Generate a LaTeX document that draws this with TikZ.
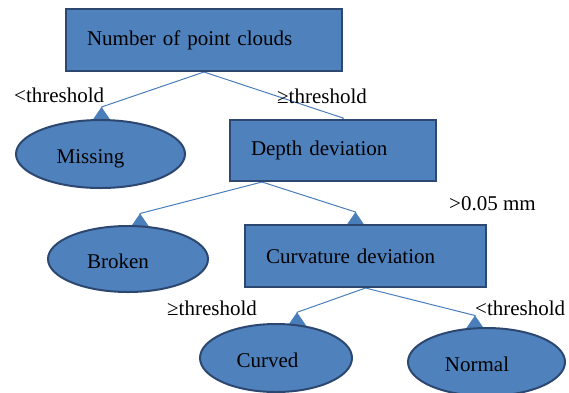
\documentclass[tikz,border=0pt]{standalone}
\usepackage{fontspec}
\setmainfont{Liberation Serif}
\usetikzlibrary{arrows.meta,shapes.geometric,calc,backgrounds}
\definecolor{boxfill}{HTML}{4F81BD}
\definecolor{boxline}{HTML}{2C4770}
\definecolor{connline}{HTML}{4A7EBB}
\begin{document}
\begin{tikzpicture}[x=1pt,y=-1pt,
  every node/.style={font=\fontsize{21}{25}\selectfont},
  decbox/.style={rectangle, draw=boxline, line width=2pt, fill=boxfill, inner xsep=0pt, inner ysep=0pt, align=left},
  leaf/.style={ellipse, draw=boxline, line width=2pt, fill=boxfill, inner sep=0pt, text height=18pt, text depth=0pt},
  conn/.style={draw=connline, line width=1pt, -{Triangle[reversed,length=14pt,width=19pt]}},
  lbl/.style={anchor=base west, inner sep=0pt}]
\useasboundingbox (0,0) rectangle (569,392);
\clip (0,0) rectangle (569,392);
% decision boxes
\node[decbox, minimum width=276pt, minimum height=62pt, text width=234pt] (root) at (204,40) {Number of point clouds};
\node[decbox, minimum width=206pt, minimum height=61pt, text width=164pt] (depth) at (333,150.5) {Depth deviation};
\node[decbox, minimum width=241pt, minimum height=62pt, text width=199pt] (curv) at (365.5,256) {Curvature deviation};
% leaves
\node[leaf, minimum width=169pt, minimum height=68pt] (missing) at (100.5,154) {Missing\hspace*{20pt}};
\node[leaf, minimum width=160pt, minimum height=66pt] (broken) at (128,259) {Broken\hspace*{20pt}};
\node[leaf, minimum width=152pt, minimum height=68pt] (curved) at (276,358) {Curved\hspace*{17pt}};
\node[leaf, minimum width=157pt, minimum height=68pt] (normal) at (486.5,362) {Normal\hspace*{19pt}};
% connector ends
\coordinate (e1) at ($(missing.north)+(1,2)$);
\coordinate (e2) at ($(depth.north)+(10,13)$);
\coordinate (e3) at ($(broken.north)+(12,2.5)$);
\coordinate (e4) at ($(curv.north)+(-10,2)$);
\coordinate (e5) at ($(curved.north)+(21,3.3)$);
\coordinate (e6) at ($(normal.north)+(-11.5,2.5)$);
\coordinate (s3) at ($(depth.south west)+(33,0)$);
\begin{scope}[on background layer]
\draw[conn] (root.south) -- ($(e1)+(0,-14)$) -- (e1);
\draw[conn] (root.south) -- ($(e2)+(0,-14)$) -- (e2);
\draw[conn] (s3) -- ($(e3)+(0,-14)$) -- (e3);
\draw[conn] (s3) -- ($(e4)+(0,-14)$) -- (e4);
\draw[conn] (curv.south) -- ($(e5)+(0,-14)$) -- (e5);
\draw[conn] (curv.south) -- ($(e6)+(0,-14)$) -- (e6);
\end{scope}
% labels
\node[lbl] (l1) at (14,102) {<threshold};
\node[lbl] (l2) at (277,103) {≥threshold};
\node[lbl] (l3) at (449,210) {>0.05 mm};
\node[lbl] (l4) at (167,315) {≥threshold};
\node[lbl] (l5) at (475,315) {<threshold};
\end{tikzpicture}
\end{document}
